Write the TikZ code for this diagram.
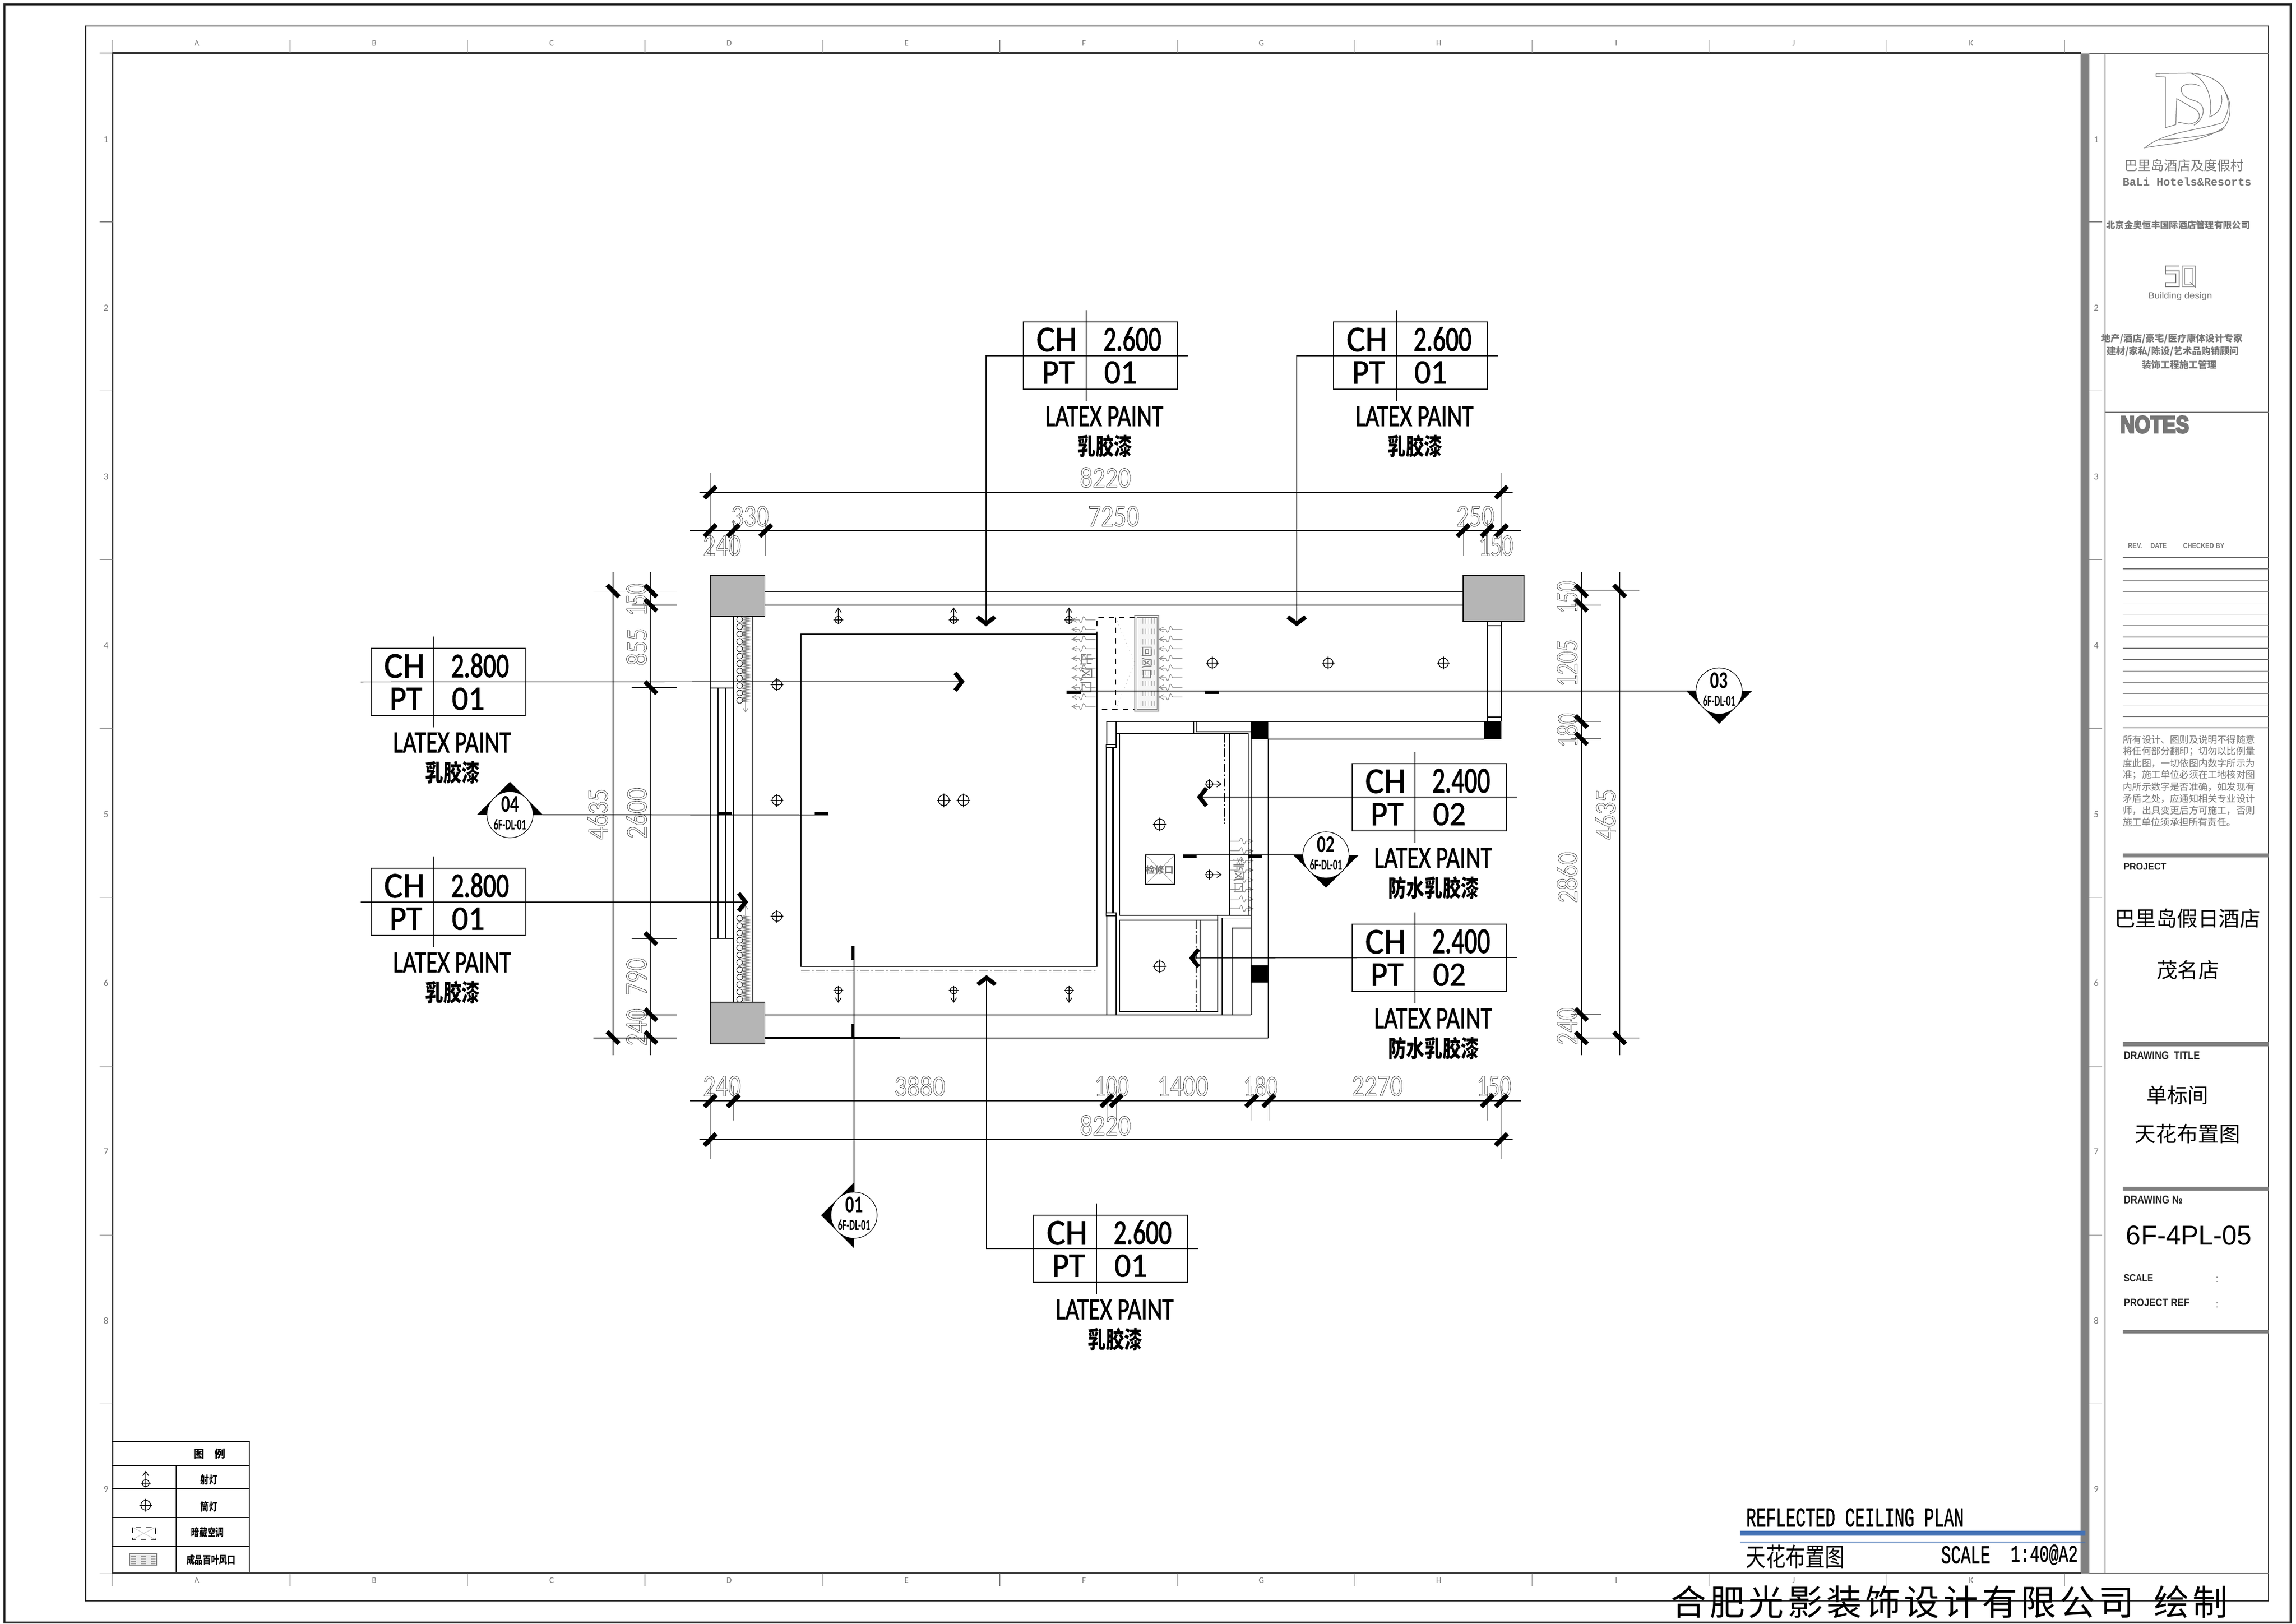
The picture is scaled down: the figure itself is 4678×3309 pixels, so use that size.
\documentclass[tikz,border=0pt]{standalone}
\usepackage{fontspec}
\usepackage{graphicx}
\setmainfont{Carlito}
\newfontfamily\cjk{Noto Sans CJK SC}
\newfontfamily\cjkls[LetterSpace=10]{Noto Sans CJK SC}
\newfontfamily\lib{Liberation Sans}
\newfontfamily\libm{Liberation Mono}
\definecolor{bandc}{HTML}{808080}
\definecolor{colc}{HTML}{B5B5B5}
\definecolor{bluec}{HTML}{4472B5}
\definecolor{dimc}{HTML}{202020}
\definecolor{softc}{HTML}{777777}
\newcounter{nn}
\newcommand\fz[1]{\fontsize{\fpeval{#1*0.2845}}{\fpeval{#1*0.34}}\selectfont}
\newcommand\fit[3]{\resizebox{\fpeval{#1*0.01}cm}{\fpeval{#2*0.01}cm}{#3}}
\newcommand\hollow{\special{pdf:literal direct 1 Tr 0.2 w}}
\newcommand\heavy[1]{\special{pdf:literal direct 2 Tr #1 w}}
\newcommand\tall[1]{\scalebox{1}[1.3]{#1}}
\newcommand\tx[4]{\stepcounter{nn}\node[txt,#3] (t\arabic{nn}) at (#1,#2) {#4};}
\newcommand\dm[5]{\tx{#1}{#2}{rotate=#4,text=dimc}{\fit{#3}{41}{\fz{60}\hollow #5}}}
\newcommand\tickh[2]{\begin{scope}[shift={(#1,#2)}]\draw[tk] (-12,12)--(12,-12);\end{scope}}
\newcommand\tickv[2]{\begin{scope}[shift={(#1,#2)}]\draw[tk] (-12,-12)--(12,12);\end{scope}}
\newcommand\dlight[3]{\begin{scope}[shift={(#1,#2)}]\draw[ln] (0,0) circle (#3);
 \draw[ln] (-#3-3,0)--(#3+3,0) (0,-#3-3)--(0,#3+3);\end{scope}}
\newcommand\spot[3]{\begin{scope}[shift={(#1,#2)},rotate=#3]\draw[ln] (0,0) circle (7);
 \draw[ln] (-10,0)--(10,0) (0,9)--(0,-24) (-6,-15)--(0,-24)--(6,-15);\end{scope}}
\newcommand\chev[4]{\coordinate (#1) at (#2,#3);
 \begin{scope}[shift={(#2,#3)},rotate=#4]\draw[chv] (-18,-16)--(0,-2)--(18,-16);\end{scope}}
\newcommand\air[3]{\begin{scope}[shift={(#1,#2)},xscale=#3]
 \draw[air] (0,0)--(-20,0) .. controls (-24,-9) and (-25,-9) .. (-27,0) .. controls (-29,8) and (-31,8) .. (-33,0)--(-48,0) (-38,-5)--(-48,0)--(-38,5);\end{scope}}
\newcommand\chbox[6]{\begin{scope}[shift={(#2,#3)}]
 \node[chb,anchor=north west] (#1) at (0,0) {};
 \draw[ln] (128,-24)--(128,161);
 \tx{68}{36}{}{\fit{83}{48}{\fz{70}\heavy{.25}CH}}
 \tx{222}{35}{}{\fit{118}{48}{\fz{70}\heavy{.45}#4}}
 \tx{71}{103}{}{\fit{67}{45}{\fz{70}\heavy{.25}PT}}
 \tx{198}{103}{}{\fit{67}{45}{\fz{70}\heavy{.25}#5}}
 \tx{165}{192}{}{\fit{240}{40}{\fz{60}\heavy{.3}LATEX PAINT}}
 \tx{166}{253}{font=\cjk\bfseries\fz{37}}{\tall{#6}}
 \end{scope}}
\newcommand\secsym[5]{\begin{scope}[shift={(#2,#3)}]
 \fill[black,rotate=#4] (-67,0)--(67,0)--(0,67)--cycle;
 \node[circle,draw,fill=white,line width=.35pt,minimum size=.94cm,inner sep=0] (#1) at (0,0) {};
 \tx{0}{-21}{font=\bfseries}{\fit{36}{32}{\fz{45}#5}}
 \tx{0}{20}{font=\bfseries}{\fit{66}{21}{\fz{30}6F-DL-01}}
 \end{scope}}
\tikzset{
 txt/.style={inner sep=0,outer sep=0,anchor=center},
 ln/.style={line width=.42pt,draw=black},
 thn/.style={line width=.3pt,draw=black},
 wall/.style={line width=.55pt,draw=black},
 dml/.style={line width=.65pt,draw=black},
 ext/.style={line width=.3pt,draw=gray},
 tk/.style={line width=2.6pt,draw=black},
 chv/.style={line width=2.4pt,draw=black,miter limit=10},
 air/.style={line width=.3pt,draw=gray},
 thk/.style={line width=1.7pt,draw=black},
 chb/.style={draw=black,line width=.42pt,fill=none,minimum width=3.14cm,minimum height=1.37cm,inner sep=0,outer sep=0},
 lead/.style={line width=.42pt,draw=black},
 glin/.style={line width=.4pt,draw=softc},
 gtxt/.style={text=softc},
 logo/.style={line width=.35pt,draw=softc},
 dd/.style={line width=.4pt,dash pattern=on 5pt off 1.3pt on 1pt off 1.3pt},
 bar/.style={fill=bandc,draw=none}
}
\begin{document}
\begin{tikzpicture}[x=0.01cm,y=-0.01cm]
\useasboundingbox (0,0) rectangle (4678,3309);
\fill[white] (0,0) rectangle (4678,3309);
% frames
\draw[line width=1.2pt,draw=black!85] (9,9) rectangle (4667,3306);
\draw[line width=.7pt,draw=black!85] (174.5,53) rectangle (4622,3262);
\fill[bandc] (4239,109) rectangle (4257,3206);
\draw[line width=1pt,draw=black!75] (4240,108)--(229.6,108)--(229.6,3205)--(4240,3205);
\draw[glin] (4289,109) -- (4622,109) (4289,109)--(4289,3206) (4257,3206)--(4622,3206) (4257,109)--(4289,109);
% zone ticks
\foreach \k in {0,...,10}{\pgfmathsetmacro\xx{591+361.5*\k}
 \draw[ext] (\xx,82)--(\xx,108) (\xx,3206)--(\xx,3232);}
\draw[ext] (229.6,82)--(229.6,108) (229.6,3206)--(229.6,3232) (203,108)--(229,108) (203,3206)--(229,3206);
\foreach \k in {0,...,7}{\pgfmathsetmacro\yy{452+344.1*\k}
 \draw[ext] (203,\yy)--(229,\yy) (4257,\yy)--(4283,\yy);}
\foreach \k/\L in {0/A,1/B,2/C,3/D,4/E,5/F,6/G,7/H,8/I,9/J,10/K}{\pgfmathsetmacro\xx{401+361.5*\k}
 \tx{\xx}{88}{gtxt,font=\fz{17}}{\L}
 \tx{\xx}{3220}{gtxt,font=\fz{17}}{\L}}
\foreach \k/\L in {0/1,1/2,2/3,3/4,4/5,5/6,6/7,7/8,8/9}{\pgfmathsetmacro\yy{284+343.8*\k}
 \tx{216}{\yy}{gtxt,font=\fz{19}}{\L}
 \tx{4271}{\yy}{gtxt,font=\fz{19}}{\L}}
% title panel
\draw[logo] (4393,150)--(4463,149) .. controls (4500,151) and (4528,168) .. (4533,186)
 .. controls (4542,205) and (4544,225) .. (4528,250) .. controls (4480,266) and (4410,268) .. (4370,301)
 .. controls (4420,292) and (4490,290) .. (4533,258) .. controls (4548,235) and (4546,205) .. (4533,186);
\draw[logo] (4393,150)--(4393,156)--(4412,157)--(4412,260)--(4433,254)--(4435,201)--(4463,217)
 .. controls (4490,228) and (4485,250) .. (4460,253) -- (4438,249);
\draw[logo] (4483,176) .. controls (4470,168) and (4450,170) .. (4445,178) .. controls (4440,192) and (4455,200) .. (4470,205)
 .. controls (4500,212) and (4490,245) .. (4470,255);
\draw[logo] (4463,149) .. controls (4495,160) and (4510,200) .. (4502,238) .. controls (4520,232) and (4530,215) .. (4526,194);
\draw[logo] (4398,285) .. controls (4450,282) and (4510,276) .. (4532,262);
\tx{4450}{337}{gtxt,font=\cjk\fz{27}}{巴里岛酒店及度假村}
\tx{4456}{370}{gtxt,font=\libm\bfseries\fz{23}}{BaLi Hotels\&Resorts}
\tx{4438}{458}{gtxt,font=\cjk\bfseries\fz{18.3}}{北京金奥恒丰国际酒店管理有限公司}
\draw[logo] (4440,542)--(4412,542)--(4412,552)--(4440,552)--(4440,584)--(4412,584)--(4412,576)--(4433,576)--(4433,558)--(4412,558)--(4412,552);
\draw[logo] (4446,542) rectangle (4473,584) (4451,547) rectangle (4468,579) (4462,575)--(4474,586);
\tx{4442}{604}{gtxt,font=\lib\fz{20}}{\fit{130}{13}{\fz{20}Building design}}
\tx{4425}{690}{gtxt,font=\cjk\bfseries\fz{19}}{地产/酒店/豪宅/医疗康体设计专家}
\tx{4427}{716}{gtxt,font=\cjk\bfseries\fz{19}}{建材/家私/陈设/艺术品购销顾问}
\tx{4440}{743}{gtxt,font=\cjk\bfseries\fz{19}}{装饰工程施工管理}
\draw[glin] (4289,840)--(4622,840);
\tx{4390}{865}{text=softc,font=\lib\bfseries}{\fit{140}{34}{\fz{47}\heavy{.9}NOTES}}
\tx{4350}{1112}{gtxt,font=\lib\bfseries}{\fit{29}{11}{\fz{15}REV.}}
\tx{4398}{1112}{gtxt,font=\lib\bfseries}{\fit{33}{11}{\fz{15}DATE}}
\tx{4490}{1112}{gtxt,font=\lib\bfseries}{\fit{84}{11}{\fz{15}CHECKED BY}}
\foreach \k in {0,...,15}{\pgfmathsetmacro\yy{1136+23.13*\k}\draw[glin] (4325,\yy)--(4622,\yy);}
\foreach \yy/\s in {1507/所有设计、图则及说明不得随意,1531/将任何部分翻印；切勿以比例量,1555/度此图，一切依图内数字所示为,1579/准；施工单位必须在工地核对图,1603/内所示数字是否准确，如发现有,1627/矛盾之处，应通知相关专业设计,1651/师，出具变更后方可施工，否则}
 {\tx{4460}{\yy}{gtxt,font=\cjk\fz{19.2}}{\s}}
\tx{4325}{1675}{gtxt,anchor=west,font=\cjk\fz{19.2}}{施工单位须承担所有责任。}
\fill[bar] (4325,1739) rectangle (4622,1746.5);
\tx{4370}{1766}{text=black!85,font=\lib\bfseries}{\fit{87}{14}{\fz{20}PROJECT}}
\tx{4457}{1871}{font=\cjk\fz{42.5}}{巴里岛假日酒店}
\tx{4458}{1976}{font=\cjk\fz{42.5}}{茂名店}
\fill[bar] (4325,2123) rectangle (4622,2132);
\tx{4404.5}{2151}{text=black!85,font=\lib\bfseries}{\fit{155}{16}{\fz{22}DRAWING \ TITLE}}
\tx{4436}{2232}{font=\cjk\fz{42}}{单标间}
\tx{4457}{2310}{font=\cjk\fz{43}}{天花布置图}
\fill[bar] (4325,2418) rectangle (4622,2426);
\tx{4387}{2445}{text=black!85,font=\lib\bfseries}{\fit{120}{16}{\fz{22}DRAWING №}}
\tx{4460}{2517}{font=\lib}{\fit{256}{39}{\fz{54}6F-4PL-05}}
\tx{4357}{2604}{text=black!85,font=\lib\bfseries}{\fit{60}{15}{\fz{20}SCALE}}
\tx{4394}{2654}{text=black!85,font=\lib\bfseries}{\fit{134}{15}{\fz{20}PROJECT REF}}
\tx{4517}{2607}{gtxt,font=\lib\fz{20}}{:}
\tx{4517}{2659}{gtxt,font=\lib\fz{20}}{:}
\fill[bar] (4325,2709.5) rectangle (4622,2717);
% title strip
\tx{3779.5}{3092}{font=\libm}{\fit{443}{37}{\fz{56}\heavy{.2}REFLECTED CEILING PLAN}}
\fill[bluec] (3545,3119) rectangle (4249,3129);
\draw[line width=.8pt,draw=bluec] (3545,3142)--(4249,3142);
\tx{3658}{3172}{font=\cjk\fz{40}}{\tall{天花布置图}}
\tx{4005}{3168}{font=\libm}{\fit{100}{35}{\fz{50}\heavy{.2}SCALE}}
\tx{4165}{3168}{font=\libm}{\fit{137}{35}{\fz{50}\heavy{.2}1:40@A2}}
\tx{3972}{3264}{font=\cjkls\fz{72}}{合肥光影装饰设计有限公司\hspace{.4cm}绘制}
% legend
\draw[ln] (229,2937)--(508,2937)--(508,3204) (229,2986)--(508,2986) (229,3033)--(508,3033) (229,3092)--(508,3092) (229,3151)--(508,3151) (359,2986)--(359,3204);
\tx{427}{2962}{font=\cjk\bfseries\fz{22}}{图\hspace{.2cm}例}
\tx{426}{3015}{font=\cjk\bfseries\fz{17}}{\tall{射灯}}
\tx{426}{3070}{font=\cjk\bfseries\fz{17}}{\tall{筒灯}}
\tx{423}{3122}{font=\cjk\bfseries\fz{16.5}}{\tall{暗藏空调}}
\tx{430}{3178}{font=\cjk\bfseries\fz{16.5}}{\tall{成品百叶风口}}
\spot{297}{3022}{0}
\dlight{297}{3067}{10}
\draw[line width=.3pt,dashed] (270,3112) rectangle (317,3137);
\draw[line width=.3pt,draw=gray!40] (270,3112)--(293,3124)--(317,3112) (270,3137)--(293,3124)--(317,3137);
\draw[line width=.6pt,draw=gray,fill=gray!15] (264,3166) rectangle (319,3189);
\foreach \yy in {3171,3176,3181,3186}{\draw[line width=.2pt,draw=gray,dashed] (266,\yy)--(317,\yy);}
% structure
\draw[ln,fill=colc] (1447,1172) rectangle (1558.5,1256);
\draw[ln,fill=colc] (1447,2042) rectangle (1558.5,2127);
\draw[ln,fill=colc] (2981,1172) rectangle (3105,1266);
\draw[wall] (1558.5,1204.6)--(2981,1204.6);
\draw[ln] (1558.5,1233)--(2981,1233);
\draw[wall] (1558.5,2068)--(2549,2068);
\draw[ln] (1558.5,2115)--(2584,2115);
\draw[line width=1.1pt] (1558.5,2115)--(1833,2115);
\draw[ln] (1447,1256)--(1447,2042) (1494,1256)--(1494,2042);
\draw[wall] (1534,1256)--(1534,2042);
\draw[ln] (1447,1402)--(1494,1402) (1447,1912.6)--(1494,1912.6) (1463,1402)--(1463,1912.6) (1478,1402)--(1478,1912.6);
% curtain
\foreach \yy in {1262,1277,...,1427}{\draw[thn] (1507,\yy) circle (6);}
\foreach \yy in {1871,1886,...,2036}{\draw[thn] (1507,\yy) circle (6);}
\draw[air] (1513,1256) \foreach \i in {1,...,58}{ -- ++(12,1.5) -- ++(-12,1.5)};
\draw[air] (1513,1866) \foreach \i in {1,...,58}{ -- ++(12,1.5) -- ++(-12,1.5)};
\draw[air] (1519,1430)--(1519,1451) (1514,1443)--(1519,1451)--(1524,1443);
\draw[air] (1519,1865)--(1519,1845) (1514,1853)--(1519,1845)--(1524,1853);
% ceiling
\draw[ln] (1632,1292) rectangle (2235,1969.5);
\draw[dd] (1632,1978.6)--(2235,1978.6);
\foreach \xx/\yy/\r in {1583/1395/10,1583/1630.5/10,1583/1867/10,1923/1630.5/11,1963/1630.5/11,2470/1351/10,2706/1351/10,2941/1351/10,2363/1680/11,2363/1969/11}{\dlight{\xx}{\yy}{\r}}
\foreach \xx in {1708,1943,2178}{\spot{\xx}{1263}{0}\spot{\xx}{2018}{180}}
\spot{2464}{1597.5}{-90}
\spot{2464}{1782}{-90}
% AC
\draw[line width=.35pt,dashed] (2312,1258)--(2235,1258)--(2235,1445)--(2312,1445) (2273,1258)--(2273,1445);
\draw[line width=.3pt,draw=gray!60,dotted] (2273,1258)--(2312,1351)--(2273,1445);
\draw[line width=.5pt,draw=gray,fill=gray!8] (2312,1254) rectangle (2361,1449);
\draw[line width=.3pt,draw=gray] (2316,1258) rectangle (2357,1445);
\foreach \xx in {2322,2328,2334,2340,2346,2352}{\draw[line width=.2pt,draw=gray!70,dashed] (\xx,1260)--(\xx,1443);}
\tx{2337}{1351}{gtxt,rotate=-90,font=\cjk\fz{23}}{回风口}
\tx{2214}{1372}{gtxt,rotate=-90,font=\cjk\fz{28}}{出风口}
\tx{2524.5}{1784}{gtxt,rotate=-90,font=\cjk\fz{24}}{排风口}
\foreach \k in {0,...,9}{\pgfmathsetmacro\yy{1263+19.65*\k}\air{2232}{\yy}{1}}
\foreach \k in {1,...,8}{\pgfmathsetmacro\yy{1263+19.65*\k}\air{2409}{\yy}{1}}
\foreach \k in {0,...,7}{\pgfmathsetmacro\yy{1714+19.65*\k}\air{2505}{\yy}{-1}}
% bathroom
\draw[wall] (2255,1517)--(2255,1470)--(3024,1470) (2255,1865)--(2255,2068);
\draw[ln] (2274,1470)--(2274,1517) (2274,1865)--(2274,2068);
\draw[ln] (2281,1495)--(2281,1865) (2274,1495)--(2543.5,1495)--(2543.5,1865) (2505,1495)--(2505,1865);
\draw[ln] (2253.7,1517) rectangle (2274,1523) (2253.7,1860) rectangle (2274,1866) (2254,1523)--(2254,1860) (2267,1523)--(2267,1860) (2269,1523)--(2269,1860);
\draw[ln] (2432,1470)--(2432,1495) (2437.5,1470)--(2437.5,1491)--(2549,1491);
\draw[ln] (2281,1865)--(2549,1865) (2281,1875)--(2481,1875);
\draw[ln] (2281,1875)--(2281,2061)--(2481,2061)--(2481,1865);
\draw[ln] (2445,1875)--(2445,2061);
\draw[dd] (2437,1875)--(2437,2061);
\draw[dd] (2495,1495)--(2495,1679);
\draw[ln] (2490,2068)--(2490,1870.5)--(2549,1870.5) (2510.5,2068)--(2510.5,1891)--(2549,1891);
\draw[ln] (2549,1470)--(2549,2068);
\draw[wall] (2584,1505.6)--(2584,2115);
\draw[wall] (2584,1505.6)--(3024,1505.6);
\fill[black] (2549,1470) rectangle (2584,1506);
\fill[black] (3024,1470) rectangle (3059,1506);
\fill[black] (2549,1967) rectangle (2584,2002);
\draw[ln] (3031,1266)--(3031,1470) (3059,1266)--(3059,1470) (3031,1275)--(3059,1275) (3031,1461)--(3059,1461);
\draw[ln] (2334,1742) rectangle (2393,1802);
\draw[line width=.2pt,draw=gray] (2334,1742)--(2393,1802) (2393,1742)--(2334,1802);
\tx{2363}{1772}{gtxt,font=\cjk\bfseries\fz{19}}{检修口}
% dimensions
\draw[dml] (1425,1003)--(3082,1003) (1406,1081)--(3099,1081) (1406,2243)--(3099,2243) (1425,2322)--(3082,2322);
\draw[dml] (1249,1166)--(1249,2150) (1326,1166)--(1326,2150) (3222,1166)--(3222,2150) (3300,1166)--(3300,2150);
\draw[ext] (1447,963)--(1447,1133) (3059,963)--(3059,1133);
\foreach \xx in {1494,1560,2981,3030}{\draw[ext] (\xx,1060)--(\xx,1133);}
\draw[ext] (1447,2213)--(1447,2362) (3059,2213)--(3059,2362);
\foreach \xx in {1494,2255,2274,2550,2585,3030}{\draw[ext] (\xx,2213)--(\xx,2283);}
\draw[ln] (1209,1204.6)--(1379,1204.6) (1287,1233)--(1379,1233) (1287,1401)--(1379,1401) (1287,1912.5)--(1379,1912.5) (1287,2068)--(1379,2068) (1209,2115)--(1379,2115);
\draw[ext] (3200,1204)--(3340,1204) (3200,1233)--(3262,1233) (3200,1470)--(3262,1470) (3200,1505)--(3262,1505) (3200,2067)--(3262,2067) (3200,2115)--(3340,2115);
\foreach \xx in {1447,3059}{\tickh{\xx}{1003}\tickh{\xx}{2322}}
\foreach \xx in {1447,1494,1560,2981,3030,3059}{\tickh{\xx}{1081}}
\foreach \xx in {1447,1494,2255,2274,2550,2585,3030,3059}{\tickh{\xx}{2243}}
\foreach \yy in {1204,1233,1401,1912.5,2067.5,2114}{\tickv{1326}{\yy}}
\tickv{1249}{1204}\tickv{1249}{2114}
\foreach \yy in {1204,1233,1470,1505,2067,2115}{\tickv{3222}{\yy}}
\tickv{3300}{1204}\tickv{3300}{2115}
\dm{2252}{973}{104}{0}{8220}
\dm{2269}{1052}{104}{0}{7250}
\dm{1528}{1052}{77}{0}{330}
\dm{3006}{1052}{77}{0}{250}
\dm{1471}{1112}{77}{0}{240}
\dm{3048}{1112}{70}{0}{150}
\dm{1471}{2213}{77}{0}{240}
\dm{1874}{2213}{104}{0}{3880}
\dm{2265}{2213}{70}{0}{100}
\dm{2410}{2213}{104}{0}{1400}
\dm{2568}{2213}{70}{0}{180}
\dm{2806}{2213}{104}{0}{2270}
\dm{3044}{2213}{70}{0}{150}
\dm{2252}{2293}{104}{0}{8220}
\dm{1297}{1222}{66}{90}{150}
\dm{1297}{1318}{76}{90}{855}
\dm{1297}{1657}{104}{90}{2600}
\dm{1297}{1990}{76}{90}{790}
\dm{1297}{2093}{76}{90}{240}
\dm{1218}{1659}{104}{90}{4635}
\dm{3193}{1217}{66}{90}{150}
\dm{3193}{1351}{96}{90}{1205}
\dm{3193}{1488}{70}{90}{180}
\dm{3193}{1788}{104}{90}{2860}
\dm{3193}{2091}{76}{90}{240}
\dm{3271}{1660}{104}{90}{4635}
% material tags
\chbox{chA}{2085}{656}{2.600}{01}{乳胶漆}
\chbox{chB}{2717}{656}{2.600}{01}{乳胶漆}
\chbox{chC}{756}{1321}{2.800}{01}{乳胶漆}
\chbox{chD}{756}{1769}{2.800}{01}{乳胶漆}
\chbox{chE}{2755}{1556}{2.400}{02}{防水乳胶漆}
\chbox{chF}{2755}{1883}{2.400}{02}{防水乳胶漆}
\chbox{chG}{2106}{2476}{2.600}{01}{乳胶漆}
\chev{pA}{2009}{1273}{0}
\chev{pB}{2642}{1273}{0}
\chev{pC}{1962}{1389}{90}
\chev{pD}{1521}{1838}{90}
\chev{pE}{2442}{1624}{-90}
\chev{pF}{2426}{1952}{-90}
\chev{pG}{2010}{1990}{180}
\coordinate (eA) at (2420,725);
\coordinate (eB) at (3052,725);
\coordinate (eC) at (735,1389.5);
\coordinate (eD) at (735,1838);
\coordinate (eE) at (3091,1624);
\coordinate (eF) at (3091,1951);
\coordinate (eG) at (2441,2544);
\draw[lead] (pA) |- (eA);
\draw[lead] (pB) |- (eB);
\draw[lead] (eC) -- (pC);
\draw[lead] (eD) -- (pD);
\draw[lead] (pE) -- (eE);
\draw[lead] (pF) -- (eF);
\draw[lead] (pG) |- (eG);
% section marks
\secsym{symA}{1740}{2476}{-90}{01}
\secsym{symB}{2701.5}{1742}{0}{02}
\secsym{symC}{3502.5}{1408}{0}{03}
\secsym{symD}{1039}{1660}{180}{04}
\coordinate (sA) at (1740,1928);
\coordinate (sB) at (2410,1742);
\coordinate (sC) at (2173,1408);
\coordinate (sD) at (1688,1660.5);
\draw[lead] (sA) -- (symA.north);
\draw[wall] (sB) -- (symB.west);
\draw[lead] (sC) -- (symC.west);
\draw[wall] (sD) -- (symD.east);
\draw[thk] (1738,1928)--(1738,1956) (1738,2086)--(1738,2114);
\draw[thk] (2410,1745)--(2438,1745) (2543.5,1745)--(2571,1745);
\draw[thk] (2173,1411)--(2202,1411) (2455,1411)--(2483,1411);
\draw[thk] (1463,1657)--(1491,1657) (1660,1657)--(1688,1657);
\end{tikzpicture}
\end{document}
